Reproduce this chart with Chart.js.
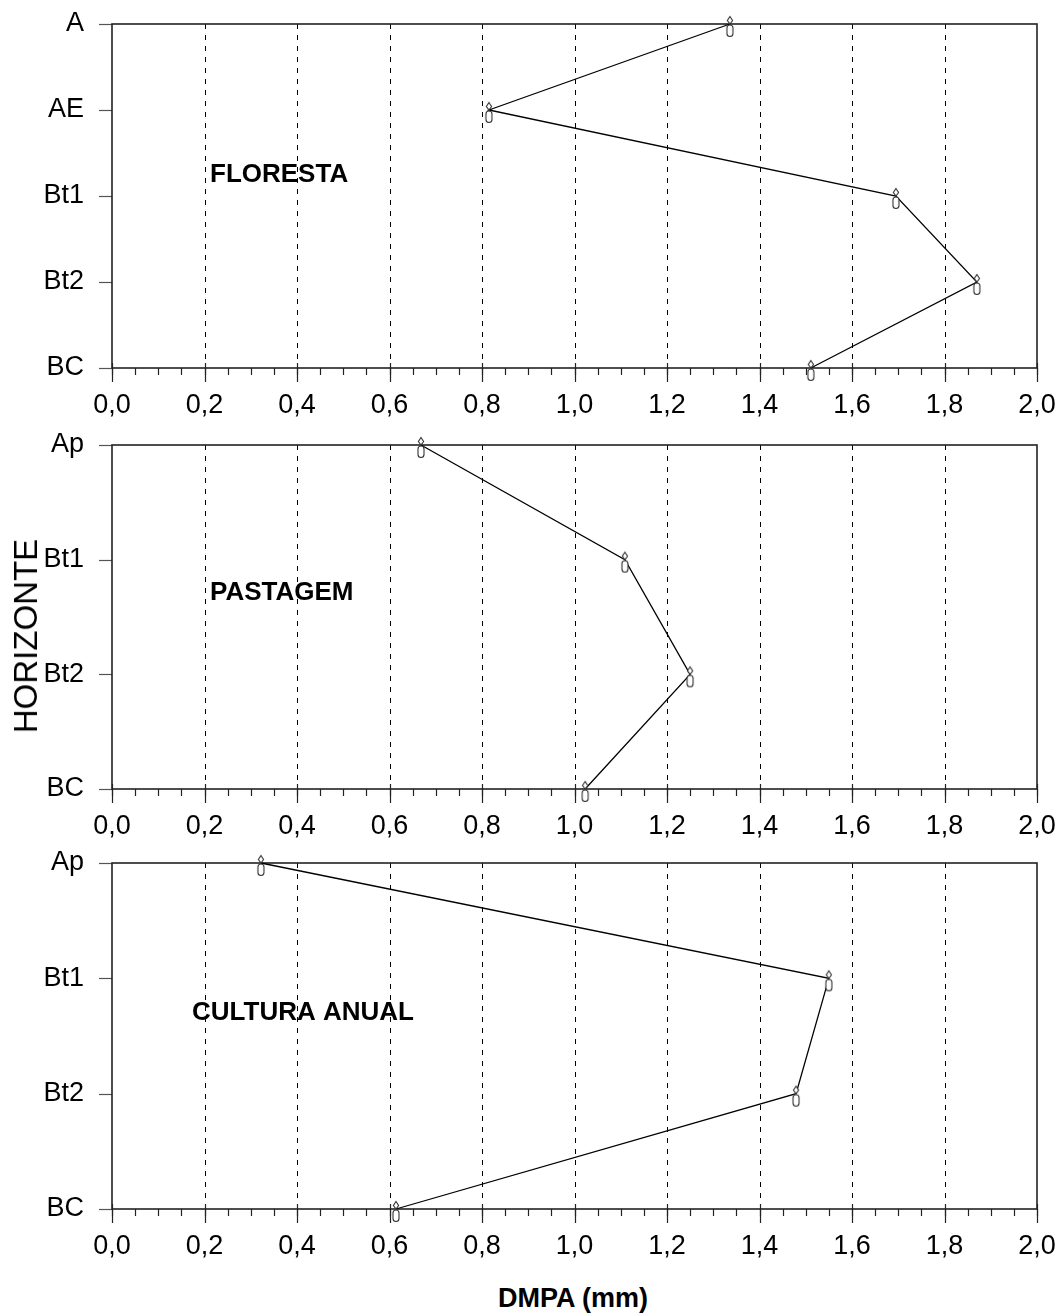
<!DOCTYPE html>
<html>
<head>
<meta charset="utf-8">
<script src="https://cdn.jsdelivr.net/npm/chart.js@4.4.0/dist/chart.umd.min.js"></script>
<style>
    body { margin: 0; background: #fff; }
    #page { position: relative; width: 1061px; height: 1315px; font-family: 'Liberation Sans', Arial, sans-serif; }
    canvas.panel { position: absolute; left: 0; }
    .axis-title { position: absolute; color: #000; white-space: nowrap; }
</style>
</head>
<body>
<div id="page">
    <canvas id="floresta" class="panel" style="top:0px"></canvas>
    <canvas id="pastagem" class="panel" style="top:430px"></canvas>
    <canvas id="cultura" class="panel" style="top:850px"></canvas>
    <div class="axis-title" id="yTitle" style="left:26px; top:636px; font-size:33px; transform: translate(-50%, -50%) rotate(-90deg);">HORIZONTE</div>
    <div class="axis-title" style="left:573px; top:1283px; font-size:27px; font-weight:bold; transform: translateX(-50%);">DMPA (mm)</div>
</div>
<script>
// ===== DATA =====
const xTickLabels = ['0,0', '0,2', '0,4', '0,6', '0,8', '1,0', '1,2', '1,4', '1,6', '1,8', '2,0'];

const florestaHorizons = ['A', 'AE', 'Bt1', 'Bt2', 'BC'];
const florestaDmpa = [1.336, 0.815, 1.695, 1.870, 1.511];

const pastagemHorizons = ['Ap', 'Bt1', 'Bt2', 'BC'];
const pastagemDmpa = [0.668, 1.109, 1.250, 1.023];

const culturaHorizons = ['Ap', 'Bt1', 'Bt2', 'BC'];
const culturaDmpa = [0.322, 1.550, 1.479, 0.614];

const fontFamily = "'Liberation Sans', Arial, sans-serif";

// Small marker glyph: a diamond sitting on a rounded capsule
const makeMarker = () => {
    const c = document.createElement('canvas');
    c.width = 10;
    c.height = 42;
    const g = c.getContext('2d');
    g.strokeStyle = '#333';
    g.fillStyle = '#fff';
    g.lineWidth = 1.1;
    // diamond
    g.beginPath();
    g.moveTo(5, 13.5);
    g.lineTo(7.6, 17.5);
    g.lineTo(5, 21);
    g.lineTo(2.4, 17.5);
    g.closePath();
    g.fill();
    g.stroke();
    // capsule
    g.beginPath();
    g.roundRect(2, 22, 6, 11.5, 3);
    g.fill();
    g.stroke();
    return c;
};
const marker = makeMarker();

// Frame, dashed gridlines, tick marks and the panel caption
const panelDecor = {
    id: 'panelDecor',
    beforeDatasetsDraw(chart, args, opts) {
        const { ctx, chartArea: a, scales: { x, y } } = chart;
        ctx.save();

        // dashed vertical grid
        ctx.strokeStyle = '#000';
        ctx.lineWidth = 1;
        ctx.setLineDash([5, 6]);
        for (let k = 1; k < xTickLabels.length - 1; k++) {
            const px = Math.round(x.getPixelForValue(k * 0.2)) + 0.5;
            ctx.beginPath();
            ctx.moveTo(px, a.top);
            ctx.lineTo(px, a.bottom);
            ctx.stroke();
        }
        ctx.setLineDash([]);

        // minor ticks (below the axis)
        ctx.strokeStyle = '#222';
        ctx.lineWidth = 1.2;
        for (let k = 0; k <= 40; k++) {
            const px = Math.round(x.getPixelForValue(k * 0.05)) + 0.5;
            ctx.beginPath();
            ctx.moveTo(px, a.bottom);
            ctx.lineTo(px, a.bottom + 7);
            ctx.stroke();
        }
        // major ticks (crossing the axis)
        for (let k = 0; k < xTickLabels.length; k++) {
            const px = Math.round(x.getPixelForValue(k * 0.2)) + 0.5;
            ctx.beginPath();
            ctx.moveTo(px, a.bottom - 5);
            ctx.lineTo(px, a.bottom + 14);
            ctx.stroke();
        }

        // left ticks at each horizon
        ctx.strokeStyle = '#555';
        ctx.lineWidth = 1.2;
        for (let i = 0; i < opts.horizons.length; i++) {
            const py = Math.round(y.getPixelForValue(i)) + 0.5;
            ctx.beginPath();
            ctx.moveTo(a.left - 13, py);
            ctx.lineTo(a.left, py);
            ctx.stroke();
        }

        // frame
        ctx.strokeStyle = '#222';
        ctx.lineWidth = 1.6;
        ctx.strokeRect(a.left, a.top, a.right - a.left, a.bottom - a.top);

        // caption
        ctx.fillStyle = '#000';
        ctx.font = `bold 26px ${fontFamily}`;
        ctx.textBaseline = 'alphabetic';
        ctx.fillText(opts.caption, a.left + opts.captionDx, a.top + opts.captionDy);
        ctx.restore();
    }
};

// no extra room for label overflow: the layout padding alone places the plot area
const zeroPadding = (scale) => {
    scale.paddingTop = 0;
    scale.paddingBottom = 0;
    scale.paddingLeft = 0;
    scale.paddingRight = 0;
};

function createPanel(canvasId, horizons, values, caption, size) {
    const canvas = document.getElementById(canvasId);
    canvas.width = 1061;
    canvas.height = size.height;
    canvas.style.width = '1061px';
    canvas.style.height = size.height + 'px';

    return new Chart(canvas, {
        type: 'line',
        data: {
            datasets: [{
                data: values.map((v, i) => ({ x: v, y: i })),
                borderColor: '#000',
                borderWidth: 1.3,
                tension: 0,
                fill: false,
                clip: false,
                pointStyle: marker,
                pointRadius: 4,
                pointHoverRadius: 4
            }]
        },
        options: {
            responsive: false,
            animation: false,
            devicePixelRatio: 1,
            layout: { padding: { top: size.top, right: 24, left: 0, bottom: 0 } },
            plugins: {
                legend: { display: false },
                tooltip: { enabled: false },
                panelDecor: { horizons: horizons, caption: caption, captionDx: size.captionDx, captionDy: size.captionDy }
            },
            scales: {
                x: {
                    type: 'linear',
                    min: 0,
                    max: 2,
                    grid: { display: false, drawTicks: false },
                    border: { display: false },
                    afterFit: (scale) => { scale.height = size.xAxisHeight; zeroPadding(scale); },
                    afterBuildTicks: (scale) => {
                        scale.ticks = xTickLabels.map((_, k) => ({ value: k * 0.2 }));
                    },
                    ticks: {
                        color: '#000',
                        padding: 21,
                        maxRotation: 0,
                        autoSkip: false,
                        font: { family: fontFamily, size: 27 },
                        callback: (v, i) => xTickLabels[i]
                    }
                },
                y: {
                    type: 'linear',
                    reverse: true,
                    min: 0,
                    max: horizons.length - 1,
                    grid: { display: false, drawTicks: false },
                    border: { display: false },
                    afterFit: (scale) => { scale.width = 112; zeroPadding(scale); },
                    afterBuildTicks: (scale) => {
                        scale.ticks = horizons.map((_, i) => ({ value: i }));
                    },
                    ticks: {
                        color: '#000',
                        padding: 28,
                        autoSkip: false,
                        font: { family: fontFamily, size: 27 },
                        callback: (v) => horizons[v]
                    }
                }
            }
        },
        plugins: [panelDecor]
    });
}

createPanel('floresta', florestaHorizons, florestaDmpa, 'FLORESTA',
    { height: 430, top: 24, xAxisHeight: 62, captionDx: 98, captionDy: 158 });
createPanel('pastagem', pastagemHorizons, pastagemDmpa, 'PASTAGEM',
    { height: 420, top: 15, xAxisHeight: 61, captionDx: 98, captionDy: 155 });
createPanel('cultura', culturaHorizons, culturaDmpa, 'CULTURA ANUAL',
    { height: 415, top: 13, xAxisHeight: 56, captionDx: 80, captionDy: 157 });
</script>
</body>
</html>
